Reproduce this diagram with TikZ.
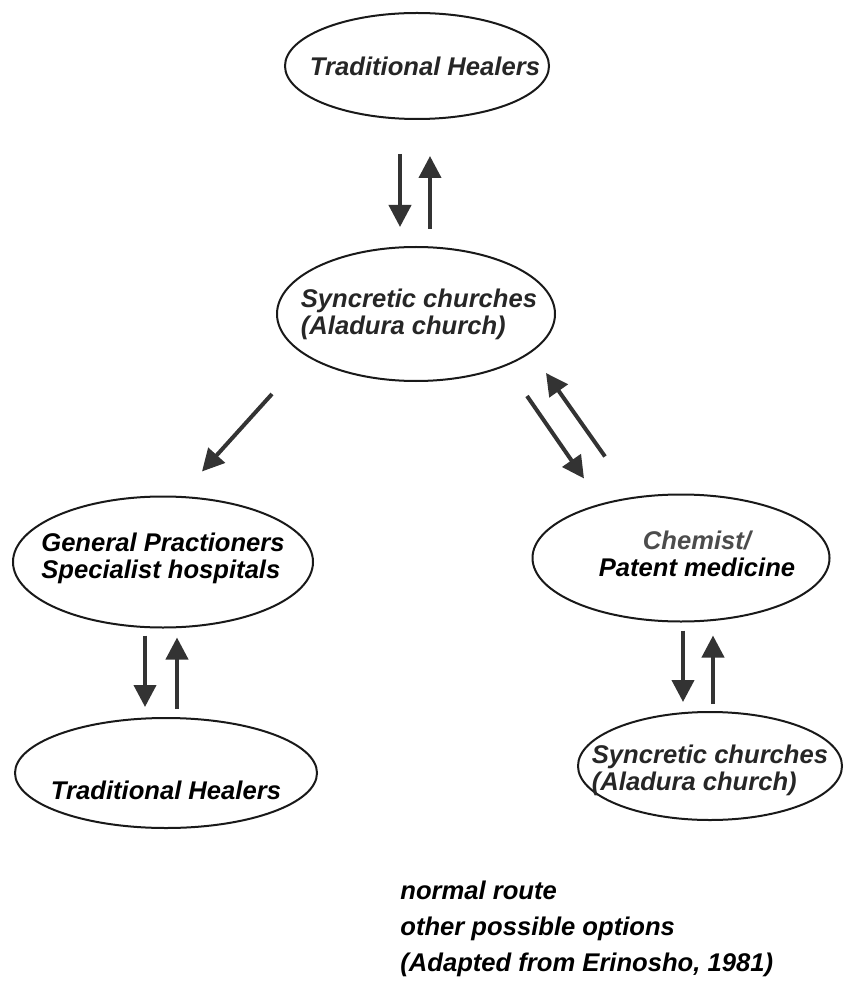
\documentclass[tikz,border=0pt]{standalone}
\usepackage{fontspec}
\setmainfont{Liberation Sans}
\usepackage{tikz}
\usetikzlibrary{arrows.meta,positioning,shapes.geometric}

\begin{document}
\begin{tikzpicture}[
        x=0.5pt, y=-0.5pt,
        font=\fontsize{12.8}{13.5}\selectfont\bfseries\itshape,
        oval/.style={draw=black!90, line width=1pt, ellipse, inner sep=0pt},
        txt/.style={align=left, inner sep=0pt, text=black!85},
        flow/.style={draw=black!80, line width=2pt, -{Triangle[width=11pt,length=11pt]}}
    ]

    \useasboundingbox (0,0) rectangle (846,989);

    % TRADITIONAL HEALERS (TOP)
    \node[oval, minimum width=132pt, minimum height=53pt] (topheal) at (417,66) {};
    \node[txt] (topheal-txt) at ([xshift=4pt]topheal.center) {Traditional Healers};

    % SYNCRETIC CHURCHES (MIDDLE)
    \node[oval, minimum width=139pt, minimum height=67pt] (midsync) at (416,314) {};
    \node[txt] (midsync-txt) at ([xshift=1.5pt]midsync.center) {Syncretic churches\\(Aladura church)};

    % GENERAL PRACTIONERS
    \node[oval, minimum width=150pt, minimum height=65.5pt] (gp) at (163,562) {};
    \node[txt, text=black] (gp-txt) at ([yshift=2pt]gp.center) {General Practioners\\Specialist hospitals};

    % CHEMIST
    \node[oval, minimum width=148.5pt, minimum height=63.5pt] (chem) at (681,558) {};
    \node[txt, align=center, text=black] (chem-txt) at ([xshift=8pt,yshift=2pt]chem.center) {\textcolor{black!70}{Chemist/}\\Patent medicine};

    % TRADITIONAL HEALERS (BOTTOM)
    \node[oval, minimum width=151pt, minimum height=55pt] (botheal) at (166,773) {};
    \node[txt, text=black] (botheal-txt) at ([yshift=-8.5pt]botheal.center) {Traditional Healers};

    % SYNCRETIC CHURCHES (BOTTOM RIGHT)
    \node[oval, minimum width=132pt, minimum height=54pt] (sync2) at (710,766) {};
    \node[txt] (sync2-txt) at ([yshift=-2pt]sync2.center) {Syncretic churches\\(Aladura church)};

    % LEGEND
    \node[txt, anchor=west, text=black, font=\fontsize{12.8}{18}\selectfont\bfseries\itshape] (legend) at (400,929)
        {normal route\\other possible options\\(Adapted from Erinosho, 1981)};

    % ROUTES FROM THE TOP
    \draw[flow] ([xshift=-8.5pt,yshift=-17pt]topheal.south) -- ([xshift=-8pt,yshift=9.5pt]midsync.north);
    \draw[flow] ([xshift=7pt,yshift=8.5pt]midsync.north) -- ([xshift=6.5pt,yshift=-18pt]topheal.south);

    % Syncretic churches to the two sides
    \draw[flow] ([xshift=-72pt,yshift=-6pt]midsync.south) -- ([xshift=19.5pt,yshift=12pt]gp.north);
    \draw[flow] ([xshift=55.5pt,yshift=-7pt]midsync.south) -- ([xshift=-48.5pt,yshift=7.5pt]chem.north);
    \draw[flow] ([xshift=-38pt,yshift=18.5pt]chem.north) -- ([xshift=65pt,yshift=4.5pt]midsync.south);

    % Left column
    \draw[flow] ([xshift=-9pt,yshift=-3.5pt]gp.south) -- ([xshift=-10.5pt,yshift=5pt]botheal.north);
    \draw[flow] ([xshift=5.5pt,yshift=4pt]botheal.north) -- ([xshift=7pt,yshift=-4.5pt]gp.south);

    % Right column
    \draw[flow] ([xshift=1pt,yshift=-4pt]chem.south) -- ([xshift=-13.5pt,yshift=4.5pt]sync2.north);
    \draw[flow] ([xshift=1.5pt,yshift=3.5pt]sync2.north) -- ([xshift=16pt,yshift=-6.5pt]chem.south);

\end{tikzpicture}
\end{document}
